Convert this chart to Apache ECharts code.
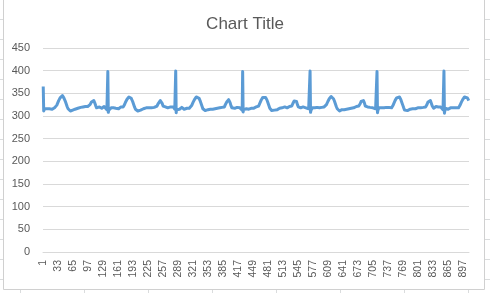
<!DOCTYPE html>
<html>
<head>
<meta charset="utf-8">
<script src="https://cdn.jsdelivr.net/npm/echarts@6/dist/echarts.min.js"></script>
<style>
  html, body { margin: 0; padding: 0; background: #fff; }
  #chart { width: 490px; height: 293px; }
</style>
</head>
<body>
<div id="chart"></div>
<script>
    // signal, one array per beat (split at the tall spikes)
    var beat0 = [365, 311,
        314, 316, 317, 315, 316, 318, 316, 317, 315, 317, 318, 316, 317, 319, 316, 318, 317, 315, 318, 317, 316, 318, 317, 319, 318,
        320, 322, 324, 327, 329, 331, 334, 336, 338, 340, 342, 343, 344, 345, 345, 344, 342, 340, 338, 336, 333, 330, 327, 324, 321, 318, 316, 314, 313, 312, 312,
        311, 312, 311, 313, 312, 313, 314, 313, 315, 314, 315, 316, 315, 316, 317, 316, 317, 318, 317, 316, 318, 317, 319, 318, 317, 319, 318, 320, 319, 318, 320, 319, 321, 320, 319, 321, 320, 321, 322, 320, 321,
        323, 325, 327, 329, 331, 333, 334, 335, 335, 334, 332, 329, 326, 323, 320, 318, 317,
        318, 319, 317, 318, 320, 319, 318, 320, 319, 317, 319, 320, 318, 319, 321, 320, 318, 319, 317, 316, 314, 313];
    var beat1 = [398, 308, 313,
        316, 315, 317, 316, 318, 317, 315, 317, 316, 318, 317, 316, 318, 319, 317, 316, 318, 317, 319, 318, 316, 318, 317, 319, 318, 320, 318, 317, 319, 318,
        320, 321, 323, 326, 328, 331, 333, 335, 337, 338, 340, 341, 342, 343, 343, 342, 341, 339, 337, 335, 332, 329, 326, 323, 320, 317, 315, 313, 312, 311, 312,
        311, 312, 313, 312, 313, 314, 313, 314, 315, 314, 316, 315, 316, 317, 316, 315, 317, 316, 318, 317, 316, 318, 317, 318, 319, 317, 318, 320, 319, 318, 319, 320, 319, 321, 320, 319, 320, 322, 321, 320, 321,
        322, 324, 326, 328, 330, 332, 333, 334, 334, 333, 331, 328, 325, 322, 320, 318, 317,
        318, 320, 319, 317, 319, 320, 318, 319, 321, 320, 318, 319, 320, 318, 320, 321, 319, 318, 320, 319, 317, 315, 312];
    var beat2 = [399, 307, 314,
        317, 316, 318, 316, 317, 315, 317, 318, 316, 317, 319, 317, 316, 318, 317, 315, 317, 318, 316, 318, 319, 317, 318, 316, 318, 319, 317, 318, 320, 319,
        321, 323, 325, 327, 330, 332, 334, 336, 338, 340, 341, 342, 343, 344, 343, 342, 341, 339, 336, 334, 331, 328, 325, 322, 319, 316, 314, 313, 312, 311, 312,
        312, 311, 312, 313, 312, 314, 313, 315, 314, 313, 315, 316, 315, 317, 316, 315, 317, 316, 317, 318, 316, 318, 317, 319, 318, 317, 319, 318, 320, 319, 318, 320, 319, 321, 320, 319, 321, 320, 322, 321, 320,
        323, 325, 327, 329, 331, 333, 335, 336, 336, 335, 333, 330, 326, 323, 320, 318, 317,
        319, 318, 320, 319, 317, 319, 320, 318, 321, 319, 318, 320, 319, 321, 320, 318, 319, 320, 317, 315, 313];
    var beat3 = [398, 309, 314,
        316, 317, 315, 317, 318, 316, 317, 316, 318, 317, 315, 317, 318, 316, 319, 317, 316, 318, 317, 319, 317, 316, 318, 319, 317, 318, 320, 318, 319, 318,
        320, 322, 324, 326, 329, 331, 333, 336, 337, 339, 341, 342, 343, 343, 344, 343, 341, 340, 337, 335, 332, 329, 326, 323, 320, 317, 315, 313, 312, 312, 311,
        312, 313, 312, 311, 313, 314, 313, 314, 316, 315, 314, 316, 317, 315, 316, 317, 316, 318, 317, 316, 318, 317, 319, 318, 317, 318, 320, 319, 318, 320, 319, 318, 320, 321, 319, 320, 321, 320, 322, 321, 320,
        322, 324, 327, 329, 331, 333, 334, 335, 335, 334, 332, 329, 325, 322, 320, 318, 318,
        319, 320, 318, 319, 321, 319, 318, 320, 319, 317, 319, 321, 320, 318, 319, 320, 318, 320, 319, 316, 314, 312];
    var beat4 = [399, 308, 313,
        317, 316, 318, 317, 315, 317, 316, 318, 317, 316, 318, 317, 319, 316, 318, 317, 316, 318, 319, 317, 318, 316, 319, 318, 317, 319, 318, 320, 318, 319,
        321, 322, 325, 327, 329, 332, 334, 336, 338, 339, 341, 342, 343, 344, 343, 342, 340, 338, 336, 333, 330, 327, 324, 321, 318, 316, 314, 313, 312, 312, 311,
        312, 311, 313, 312, 314, 313, 312, 314, 315, 314, 316, 315, 316, 317, 315, 317, 316, 318, 317, 316, 318, 317, 318, 319, 317, 319, 318, 320, 319, 318, 319, 321, 320, 319, 320, 321, 320, 322, 321, 320, 322,
        323, 325, 327, 330, 332, 334, 335, 336, 336, 334, 332, 329, 326, 322, 320, 318, 317,
        318, 320, 319, 318, 320, 321, 319, 318, 320, 319, 321, 320, 318, 319, 321, 320, 318, 319, 316, 314, 312];
    var beat5 = [398, 307, 313,
        316, 318, 317, 315, 317, 316, 318, 316, 317, 319, 317, 316, 318, 317, 315, 318, 317, 319, 318, 316, 318, 317, 319, 318, 317, 320, 318, 319, 318, 320,
        321, 323, 325, 328, 330, 332, 335, 337, 338, 340, 341, 343, 343, 344, 343, 342, 340, 338, 336, 333, 330, 327, 324, 321, 318, 315, 313, 312, 312, 311, 312,
        313, 312, 311, 313, 312, 314, 313, 315, 314, 315, 316, 314, 316, 317, 316, 315, 317, 318, 316, 317, 318, 317, 316, 318, 319, 318, 317, 319, 320, 318, 319, 320, 319, 321, 320, 319, 321, 322, 320, 321, 320,
        322, 324, 326, 329, 331, 333, 334, 335, 335, 334, 331, 328, 325, 322, 319, 318, 317,
        319, 318, 320, 319, 321, 318, 319, 320, 318, 320, 319, 321, 319, 318, 320, 321, 319, 318, 317, 314, 312];
    var beat6 = [399, 306, 312,
        317, 315, 316, 318, 316, 317, 315, 317, 318, 316, 317, 318, 316, 319, 317, 316, 318, 317, 319, 318, 317, 316, 318, 319, 318, 317, 319, 320, 318, 319,
        321, 323, 325, 327, 330, 332, 334, 336, 338, 340, 341, 342, 343, 344, 344, 343, 342, 340, 338, 336, 334];

    var values = [].concat(beat0, beat1, beat2, beat3, beat4, beat5, beat6);
    var categories = [];
    for (var i = 1; i <= values.length; i++) categories.push(String(i));

    var yTicks = { min: 0, max: 450, step: 50 };

    var gridColor = '#d9d9d9';
    var textColor = '#595959';
    var cellColor = '#dadcdd';

    // spreadsheet cells showing around the chart box
    var deco = [];
    [19.5, 39.5, 59.5, 79.5, 99.5, 119.5, 139.5, 159.5, 179.5, 199.5, 219.5, 239.5, 259.5, 279.5].forEach(function (y) {
        deco.push({ type: 'line', shape: { x1: 0, y1: y, x2: 3, y2: y }, style: { stroke: cellColor, lineWidth: 1 } });
        deco.push({ type: 'line', shape: { x1: 485, y1: y, x2: 490, y2: y }, style: { stroke: cellColor, lineWidth: 1 } });
    });
    [20.5, 84.5, 148.5, 212.5, 276.5, 340.5, 404.5, 468.5].forEach(function (x) {
        deco.push({ type: 'line', shape: { x1: x, y1: 290, x2: x, y2: 293 }, style: { stroke: cellColor, lineWidth: 1 } });
    });
    deco.push({
        type: 'rect', z: -1,
        shape: { x: 3.5, y: -5, width: 481, height: 294.5 },
        style: { fill: '#fff', stroke: '#d0d0d0', lineWidth: 1 }
    });

    var myChart = echarts.init(document.getElementById('chart'), null, { renderer: 'canvas' });
    var option = {
        animation: false,
        textStyle: { fontFamily: 'Liberation Sans' },
        title: {
            text: 'Chart Title',
            left: 'center',
            top: 11,
            textStyle: { fontSize: 17, fontWeight: 'normal', color: textColor, fontFamily: 'Liberation Sans' }
        },
        graphic: deco,
        grid: { left: 43, right: 21, top: 48, bottom: 41 },
        xAxis: {
            type: 'category',
            data: categories,
            boundaryGap: true,
            axisLine: { lineStyle: { color: gridColor } },
            axisTick: { show: false },
            axisLabel: { rotate: 90, interval: 31, fontSize: 10.5, color: textColor, margin: 8 }
        },
        yAxis: {
            type: 'value',
            min: yTicks.min,
            max: yTicks.max,
            interval: yTicks.step,
            axisLine: { show: false },
            axisTick: { show: false },
            axisLabel: { fontSize: 11, color: textColor, margin: 13 },
            splitLine: { lineStyle: { color: gridColor, width: 1 } }
        },
        series: [{
            type: 'line',
            data: values,
            showSymbol: false,
            symbol: 'none',
            lineStyle: { color: '#5B9BD5', width: 3, join: 'round' }
        }]
    };
    myChart.setOption(option);
    window.addEventListener('resize', myChart.resize);
</script>
</body>
</html>
